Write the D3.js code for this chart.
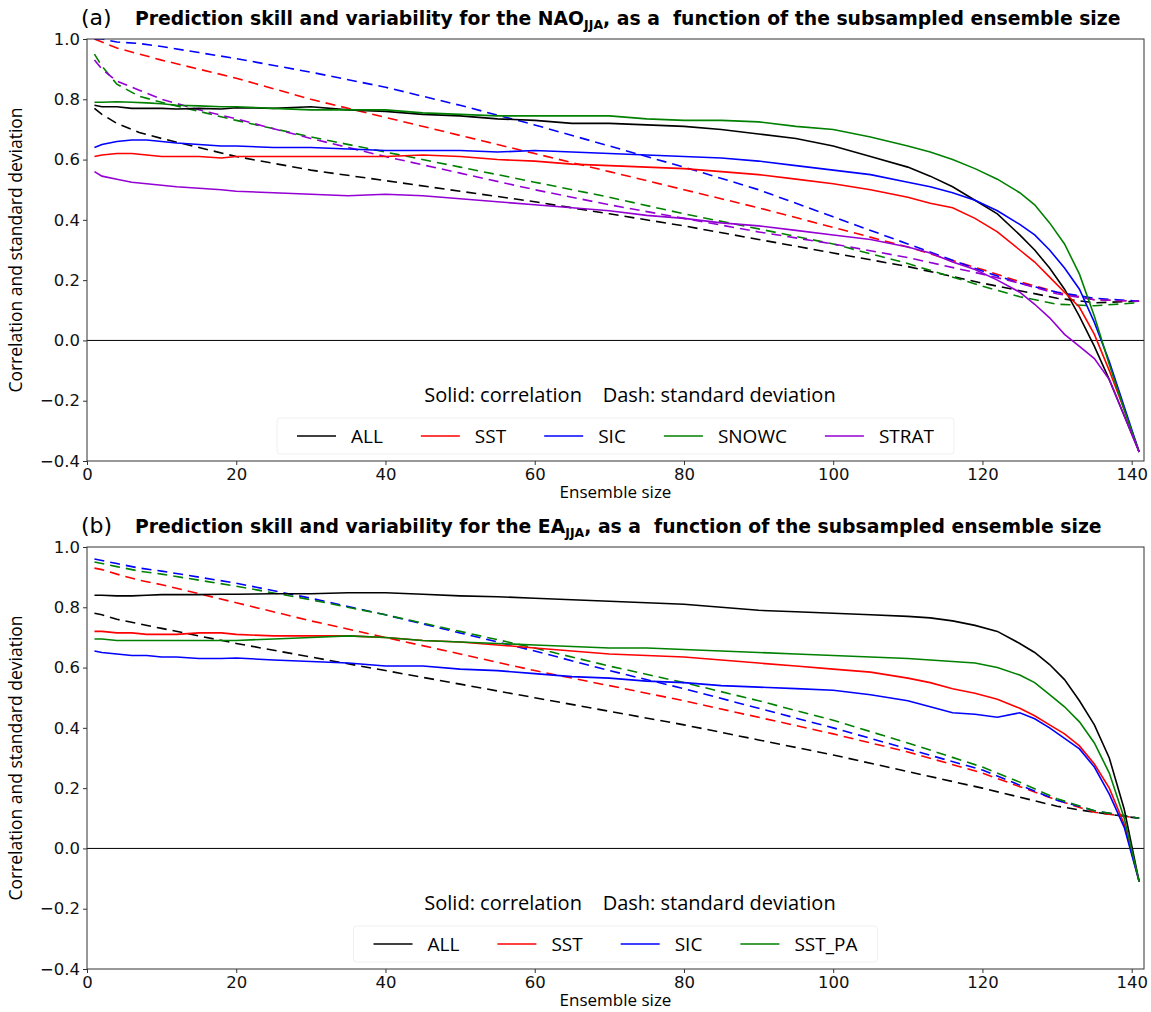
<!DOCTYPE html>
<html>
<head>
<meta charset="utf-8">
<script src="https://cdn.jsdelivr.net/npm/d3@7"></script>
<style>
  body { margin: 0; background: #fff; }
  svg { display: block; }
  .tick text { font-family: "DejaVu Sans", sans-serif; font-size: 16.5px; fill: #111; }
  .tick line { stroke: #333; }
  .domain { stroke: none; }
</style>
</head>
<body>
<div id="chart"></div>
<script>
var solidX = [1, 2, 4, 6, 8, 10, 12, 15, 18, 20, 25, 30, 35, 40, 45, 50, 55, 60, 65, 70, 75, 80,
              85, 90, 95, 100, 105, 110, 113, 116, 119, 122, 125, 127, 129, 131, 133, 135, 137, 139, 141];
var dashX = [1, 2, 4, 7, 10, 15, 20, 30, 40, 50, 60, 70, 80, 90, 100, 110, 120, 125, 130, 135, 141];

var xTicks = [0, 20, 40, 60, 80, 100, 120, 140];
var yTicks = [1.0, 0.8, 0.6, 0.4, 0.2, 0.0, -0.2, -0.4];

// panel (a): NAO JJA
var aNames = ["ALL", "SST", "SIC", "SNOWC", "STRAT"];
var aAllCorr = [0.78, 0.775, 0.775, 0.77, 0.77, 0.77, 0.768, 0.77, 0.768, 0.772, 0.77, 0.775, 0.765, 0.76, 0.75, 0.745, 0.735, 0.73, 0.72, 0.72, 0.715, 0.71,
                0.70, 0.685, 0.67, 0.645, 0.61, 0.575, 0.545, 0.51, 0.465, 0.42, 0.35, 0.30, 0.24, 0.17, 0.08, -0.02, -0.13, -0.25, -0.37];
var aSstCorr = [0.61, 0.615, 0.62, 0.62, 0.615, 0.61, 0.61, 0.61, 0.605, 0.61, 0.61, 0.61, 0.61, 0.61, 0.615, 0.61, 0.60, 0.595, 0.585, 0.58, 0.575, 0.57,
                0.56, 0.55, 0.535, 0.52, 0.50, 0.475, 0.455, 0.44, 0.405, 0.36, 0.30, 0.26, 0.21, 0.16, 0.11, 0.02, -0.10, -0.23, -0.37];
var aSicCorr = [0.64, 0.65, 0.66, 0.665, 0.665, 0.66, 0.655, 0.65, 0.645, 0.645, 0.64, 0.64, 0.635, 0.63, 0.63, 0.63, 0.625, 0.63, 0.625, 0.62, 0.615, 0.61,
                0.605, 0.595, 0.58, 0.565, 0.55, 0.525, 0.51, 0.49, 0.465, 0.43, 0.385, 0.35, 0.30, 0.24, 0.17, 0.06, -0.07, -0.22, -0.37];
var aSnowcCorr = [0.79, 0.79, 0.792, 0.79, 0.788, 0.785, 0.78, 0.778, 0.775, 0.775, 0.77, 0.765, 0.765, 0.765, 0.755, 0.75, 0.745, 0.745, 0.745, 0.745, 0.735, 0.73,
                  0.73, 0.725, 0.71, 0.70, 0.675, 0.645, 0.625, 0.60, 0.57, 0.535, 0.49, 0.45, 0.39, 0.32, 0.22, 0.08, -0.08, -0.23, -0.37];
var aStratCorr = [0.56, 0.545, 0.535, 0.525, 0.52, 0.515, 0.51, 0.505, 0.50, 0.495, 0.49, 0.485, 0.48, 0.485, 0.48, 0.47, 0.46, 0.45, 0.44, 0.43, 0.415, 0.405,
                  0.39, 0.38, 0.365, 0.35, 0.335, 0.31, 0.29, 0.26, 0.235, 0.20, 0.16, 0.12, 0.075, 0.02, -0.02, -0.06, -0.13, -0.25, -0.37];
var aAllStd = [0.77, 0.75, 0.72, 0.69, 0.67, 0.64, 0.61, 0.565, 0.53, 0.495, 0.46, 0.42, 0.38, 0.335, 0.29, 0.245, 0.19, 0.165, 0.14, 0.125, 0.13];
var aSstStd = [1.0, 0.99, 0.97, 0.95, 0.93, 0.90, 0.87, 0.80, 0.74, 0.68, 0.62, 0.56, 0.50, 0.44, 0.375, 0.31, 0.235, 0.195, 0.16, 0.135, 0.13];
var aSicStd = [1.0, 1.0, 0.99, 0.985, 0.975, 0.955, 0.935, 0.89, 0.84, 0.78, 0.715, 0.645, 0.575, 0.50, 0.41, 0.32, 0.23, 0.19, 0.16, 0.14, 0.13];
var aSnowcStd = [0.95, 0.91, 0.85, 0.81, 0.79, 0.76, 0.73, 0.675, 0.625, 0.575, 0.525, 0.475, 0.42, 0.37, 0.32, 0.255, 0.18, 0.145, 0.12, 0.115, 0.125];
var aStratStd = [0.93, 0.90, 0.86, 0.83, 0.80, 0.765, 0.735, 0.67, 0.61, 0.555, 0.50, 0.45, 0.405, 0.36, 0.32, 0.275, 0.22, 0.19, 0.155, 0.135, 0.13];

// panel (b): EA JJA
var bNames = ["ALL", "SST", "SIC", "SST_PA"];
var bAllCorr = [0.84, 0.84, 0.838, 0.838, 0.84, 0.842, 0.842, 0.842, 0.843, 0.843, 0.845, 0.845, 0.848, 0.848, 0.843, 0.838, 0.835, 0.83, 0.825, 0.82, 0.815, 0.81,
                0.80, 0.79, 0.785, 0.78, 0.775, 0.77, 0.765, 0.755, 0.74, 0.72, 0.68, 0.65, 0.61, 0.56, 0.49, 0.41, 0.30, 0.13, -0.11];
var bSstCorr = [0.72, 0.72, 0.715, 0.715, 0.71, 0.71, 0.71, 0.715, 0.715, 0.71, 0.705, 0.705, 0.705, 0.70, 0.69, 0.685, 0.675, 0.665, 0.655, 0.645, 0.64, 0.635,
                0.625, 0.615, 0.605, 0.595, 0.585, 0.565, 0.55, 0.53, 0.515, 0.495, 0.465, 0.44, 0.41, 0.38, 0.34, 0.28, 0.20, 0.08, -0.11];
var bSicCorr = [0.655, 0.65, 0.645, 0.64, 0.64, 0.635, 0.635, 0.63, 0.63, 0.632, 0.625, 0.62, 0.615, 0.605, 0.605, 0.595, 0.59, 0.58, 0.57, 0.565, 0.555, 0.55,
                0.54, 0.535, 0.53, 0.525, 0.51, 0.49, 0.47, 0.45, 0.445, 0.435, 0.45, 0.43, 0.40, 0.365, 0.33, 0.27, 0.18, 0.07, -0.11];
var bSstPaCorr = [0.695, 0.695, 0.69, 0.69, 0.69, 0.69, 0.69, 0.69, 0.69, 0.69, 0.695, 0.70, 0.705, 0.70, 0.69, 0.685, 0.68, 0.675, 0.67, 0.665, 0.665, 0.66,
                  0.655, 0.65, 0.645, 0.64, 0.635, 0.63, 0.625, 0.62, 0.615, 0.60, 0.575, 0.55, 0.51, 0.47, 0.42, 0.35, 0.25, 0.10, -0.11];
var bAllStd = [0.78, 0.775, 0.76, 0.745, 0.73, 0.705, 0.68, 0.635, 0.59, 0.545, 0.50, 0.455, 0.41, 0.36, 0.31, 0.255, 0.20, 0.17, 0.14, 0.12, 0.10];
var bSstStd = [0.93, 0.925, 0.91, 0.89, 0.875, 0.845, 0.815, 0.755, 0.70, 0.645, 0.59, 0.54, 0.49, 0.435, 0.38, 0.32, 0.25, 0.205, 0.16, 0.12, 0.10];
var bSicStd = [0.96, 0.955, 0.945, 0.93, 0.92, 0.90, 0.88, 0.83, 0.775, 0.715, 0.655, 0.59, 0.53, 0.465, 0.40, 0.33, 0.26, 0.21, 0.16, 0.125, 0.10];
var bSstPaStd = [0.95, 0.945, 0.935, 0.92, 0.91, 0.89, 0.87, 0.825, 0.775, 0.72, 0.665, 0.605, 0.55, 0.49, 0.425, 0.35, 0.27, 0.22, 0.165, 0.125, 0.10];

var colors = ["#000000", "#ff0000", "#0000ff", "#008000", "#9400d3"];

var W = 1151, H = 1012;
var margin = {left: 87, right: 7};

var svg = d3.select("#chart").append("svg")
    .attr("width", W)
    .attr("height", H);

var x = d3.scaleLinear().domain([0, 141.65]).range([margin.left, W - margin.right]);

var panels = [
    {tag: "(a)", idx: "NAO", top: 39, names: aNames,
     corr: [aAllCorr, aSstCorr, aSicCorr, aSnowcCorr, aStratCorr],
     std: [aAllStd, aSstStd, aSicStd, aSnowcStd, aStratStd]},
    {tag: "(b)", idx: "EA", top: 547, names: bNames,
     corr: [bAllCorr, bSstCorr, bSicCorr, bSstPaCorr],
     std: [bAllStd, bSstStd, bSicStd, bSstPaStd]}
];

var plotH = 422;

panels.forEach(function(p, pi) {
    var y = d3.scaleLinear().domain([-0.4, 1.0]).range([p.top + plotH, p.top]);
    var g = svg.append("g");

    g.append("clipPath").attr("id", "clip" + pi)
      .append("rect")
        .attr("x", x.range()[0]).attr("y", p.top)
        .attr("width", x.range()[1] - x.range()[0]).attr("height", plotH);

    // axes
    g.append("g")
        .attr("transform", "translate(0," + (p.top + plotH) + ")")
        .call(d3.axisBottom(x).tickValues(xTicks).tickSize(4).tickPadding(3).tickFormat(d3.format("d")));
    g.append("g")
        .attr("transform", "translate(" + margin.left + ",0)")
        .call(d3.axisLeft(y).tickValues(yTicks).tickSize(4).tickPadding(3)
              .tickFormat(function(d) { return d3.format(".1f")(d).replace("-", "\u2212"); }));

    // zero line
    g.append("line")
        .attr("x1", x.range()[0]).attr("x2", x.range()[1])
        .attr("y1", y(0)).attr("y2", y(0))
        .attr("stroke", "#000").attr("stroke-width", 1);

    var lines = g.append("g").attr("clip-path", "url(#clip" + pi + ")");

    p.std.forEach(function(vals, i) {
        var line = d3.line()
            .x(function(d, j) { return x(dashX[j]); })
            .y(function(d) { return y(d); });
        lines.append("path")
            .datum(vals)
            .attr("d", line)
            .attr("fill", "none")
            .attr("stroke", colors[i])
            .attr("stroke-width", 1.6)
            .attr("stroke-dasharray", "10,6");
    });

    p.corr.forEach(function(vals, i) {
        var line = d3.line()
            .x(function(d, j) { return x(solidX[j]); })
            .y(function(d) { return y(d); });
        lines.append("path")
            .datum(vals)
            .attr("d", line)
            .attr("fill", "none")
            .attr("stroke", colors[i])
            .attr("stroke-width", 1.6);
    });

    // frame
    g.append("rect")
        .attr("x", x.range()[0]).attr("y", p.top)
        .attr("width", x.range()[1] - x.range()[0]).attr("height", plotH)
        .attr("fill", "none").attr("stroke", "#333").attr("stroke-width", 1);

    // titles
    g.append("text")
        .attr("x", 81).attr("y", p.top - 14)
        .style("font-family", "DejaVu Sans, sans-serif").style("font-size", "22px")
        .text(p.tag);
    var t = g.append("text")
        .attr("x", 135).attr("y", p.top - 14)
        .style("font-family", "DejaVu Sans, sans-serif").style("font-size", "18.8px")
        .style("font-weight", "bold");
    t.append("tspan").text("Prediction skill and variability for the " + p.idx);
    t.append("tspan").attr("dy", 4).style("font-size", "12.5px").text("JJA");
    t.append("tspan").attr("dy", -4).text(", as a\u00a0 function of the subsampled ensemble size");

    // axis labels
    g.append("text")
        .attr("x", (x.range()[0] + x.range()[1]) / 2).attr("y", p.top + plotH + 37)
        .attr("text-anchor", "middle")
        .style("font-family", "Open Sans, sans-serif").style("font-size", "17px")
        .text("Ensemble size");
    g.append("text")
        .attr("transform", "translate(22," + (p.top + plotH / 2) + ") rotate(-90)")
        .attr("text-anchor", "middle")
        .style("font-family", "Open Sans, sans-serif").style("font-size", "17.5px")
        .text("Correlation and standard deviation");

    // legend
    g.append("text")
        .attr("x", 630).attr("y", p.top + plotH - 59)
        .attr("text-anchor", "middle")
        .style("font-family", "Open Sans, sans-serif").style("font-size", "20px")
        .attr("xml:space", "preserve")
        .text("Solid: correlation    Dash: standard deviation");

    var leg = g.append("g");
    var cx = 0;
    p.names.forEach(function(name, i) {
        var it = leg.append("g").attr("transform", "translate(" + cx + ",0)");
        it.append("line").attr("x1", 0).attr("x2", 39).attr("y1", 0).attr("y2", 0)
            .attr("stroke", colors[i]).attr("stroke-width", 1.6);
        var tx = it.append("text").attr("x", 54).attr("y", 7)
            .style("font-family", "Open Sans, sans-serif").style("font-size", "19px")
            .text(name);
        cx += 54 + tx.node().getComputedTextLength() + 38;
    });
    var legW = cx - 38;
    var legX = (x.range()[0] + x.range()[1]) / 2 - legW / 2;
    leg.attr("transform", "translate(" + legX + "," + (p.top + plotH - 25) + ")");
    leg.insert("rect", ":first-child")
        .attr("x", -20).attr("y", -18).attr("width", legW + 40).attr("height", 36)
        .attr("fill", "none").attr("stroke", "#f0f0f0").attr("rx", 3);
});
</script>
</body>
</html>
